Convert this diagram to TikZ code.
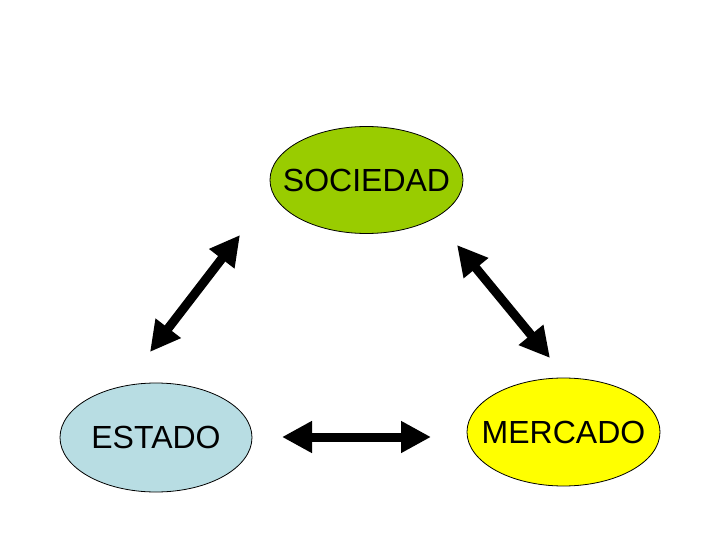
\documentclass[tikz,border=0pt]{standalone}
\usepackage{fontspec}
\setmainfont{Liberation Sans}
\usetikzlibrary{shapes.geometric,arrows.meta}
\definecolor{socgreen}{HTML}{99CC00}
\definecolor{estblue}{HTML}{B8DDE3}
\definecolor{meryellow}{HTML}{FFFF00}
\newcommand{\zw}[1]{\makebox[0pt]{#1}}
\begin{document}
\begin{tikzpicture}[x=1pt,y=-1pt,
  blob/.style={ellipse,draw=black,line width=0.8pt,minimum width=193pt,minimum height=107pt,inner sep=0pt,font=\fontsize{32}{36}\selectfont},
  dbl/.style={line width=9pt,{Triangle[length=30pt,width=30pt]}-{Triangle[length=30pt,width=30pt]}}]
\useasboundingbox (0,0) rectangle (720,540);
\fill[white] (0,0) rectangle (720,540);
\node[blob,fill=socgreen] (soc) at (366.5,180) {\zw{SOCIEDAD}};
\node[blob,fill=estblue,minimum width=192pt,minimum height=109pt] (est) at (156,437.5) {\zw{ESTADO}};
\node[blob,fill=meryellow,minimum height=108pt] (mer) at (563.5,432) {\zw{MERCADO}};
\coordinate (l1) at (150,352);
\coordinate (l2) at (240,235);
\coordinate (r1) at (457,245);
\coordinate (r2) at (550,358);
\coordinate (b1) at (282,437);
\coordinate (b2) at (431,437);
\draw[dbl] (l1) -- (l2);
\draw[dbl] (r1) -- (r2);
\draw[dbl] (b1) -- (b2);
\end{tikzpicture}
\end{document}
